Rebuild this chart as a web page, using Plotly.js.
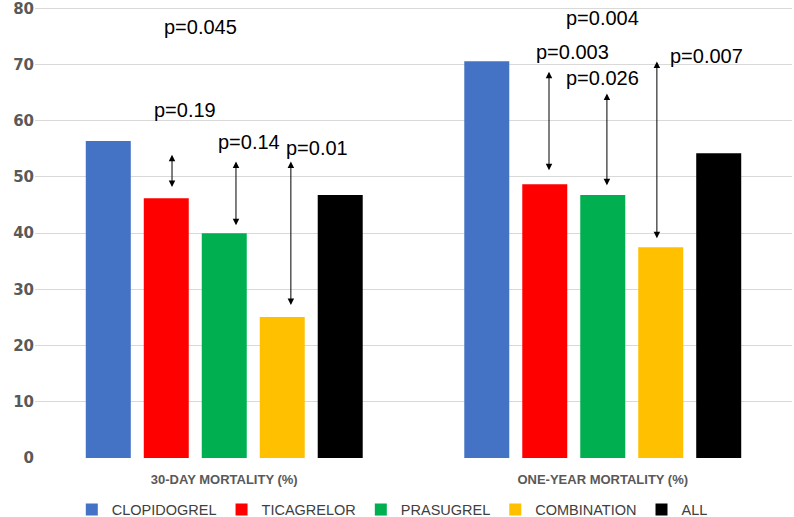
<!DOCTYPE html>
<html>
<head>
<meta charset="utf-8">
<script src="https://cdn.plot.ly/plotly-3.0.1.min.js"></script>
<style>
  body { margin: 0; background: #fff; }
  #chart { width: 794px; height: 517px; }
</style>
</head>
<body>
<div id="chart"></div>
<script>
// categories and series
var categories = ["30-DAY MORTALITY (%)", "ONE-YEAR MORTALITY (%)"];
var seriesNames = ["CLOPIDOGREL", "TICAGRELOR", "PRASUGREL", "COMBINATION", "ALL"];
var seriesColors = ["#4472c4", "#ff0000", "#00b050", "#ffc000", "#000000"];
var clopidogrel = [56.4, 70.6];
var ticagrelor = [46.2, 48.7];
var prasugrel = [40.0, 46.8];
var combination = [25.1, 37.5];
var allPatients = [46.8, 54.2];
var yTicks = [0, 10, 20, 30, 40, 50, 60, 70, 80];

// p-value labels (x is category index + offset)
var pLabels = ["p=0.045", "p=0.19", "p=0.14", "p=0.01", "p=0.004", "p=0.003", "p=0.026", "p=0.007"];
var pLabelX = [-0.064, -0.104, 0.065, 0.245, 1.0, 0.921, 1.0, 1.275];
var pLabelY = [76.6, 61.9, 56.2, 55.1, 78.2, 72.2, 67.6, 71.6];

// double-headed comparison arrows
var arrowX = [-0.138, 0.031, 0.176, 0.858, 1.011, 1.143];
var arrowTop = [54.2, 53.0, 53.0, 69.0, 65.1, 70.8];
var arrowBottom = [48.2, 41.4, 27.2, 51.2, 48.5, 39.1];

var allSeries = [clopidogrel, ticagrelor, prasugrel, combination, allPatients];

var data = allSeries.map(function (vals, i) {
  return {
    type: "bar",
    name: seriesNames[i],
    x: [0, 1],
    y: vals,
    marker: { color: seriesColors[i] },
    hoverinfo: "y"
  };
});

var annotations = [];
pLabels.forEach(function (t, i) {
  annotations.push({
    x: pLabelX[i], y: pLabelY[i], xref: "x", yref: "y",
    text: t, showarrow: false,
    font: { family: "Liberation Sans, Arial, sans-serif", size: 20, color: "#000" }
  });
});
arrowX.forEach(function (ax, i) {
  annotations.push({
    x: ax, y: arrowBottom[i], ax: ax, ay: arrowTop[i],
    xref: "x", yref: "y", axref: "x", ayref: "y",
    text: "", showarrow: true, arrowside: "end+start",
    arrowhead: 2, arrowsize: 1.3, arrowwidth: 1, arrowcolor: "#000"
  });
});

var layout = {
  width: 794,
  height: 517,
  margin: { l: 35, r: 2, t: 1, b: 59, autoexpand: false },
  paper_bgcolor: "#fff",
  plot_bgcolor: "#fff",
  barmode: "group",
  bargap: 0.234,
  bargroupgap: 0.224,
  showlegend: true,
  legend: {
    orientation: "h",
    x: 0.472, xanchor: "center",
    y: -0.113, yanchor: "middle",
    font: { family: "Liberation Sans, Arial, sans-serif", size: 14.5, color: "#404040" },
    itemwidth: 30,
    traceorder: "normal"
  },
  xaxis: {
    range: [-0.5, 1.5],
    tickmode: "array",
    tickvals: [0, 1],
    ticktext: categories,
    ticks: "",
    ticklabelstandoff: 12,
    showgrid: false,
    zeroline: false,
    showline: false,
    tickfont: { family: "Liberation Sans, Arial, sans-serif", size: 13, color: "#595959", weight: "bold" }
  },
  yaxis: {
    range: [0, 81.3],
    tickmode: "array",
    tickvals: yTicks,
    ticks: "",
    ticklabeloverflow: "allow",
    showgrid: true,
    gridcolor: "#d9d9d9",
    zeroline: false,
    showline: false,
    tickfont: { family: "DejaVu Sans, sans-serif", size: 15, color: "#595959", weight: "bold" }
  },
  annotations: annotations
};

Plotly.newPlot("chart", data, layout, { displayModeBar: false, staticPlot: true });
</script>
</body>
</html>
